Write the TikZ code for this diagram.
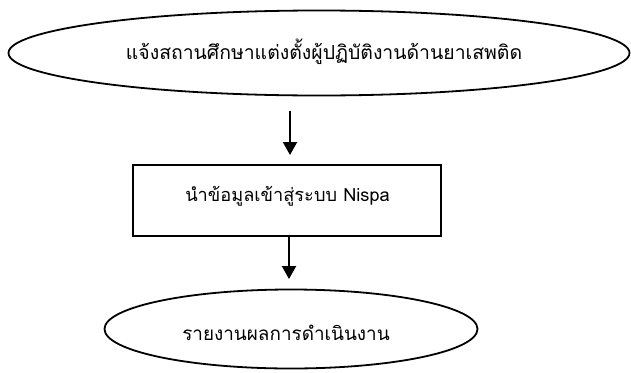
\documentclass[tikz,border=0pt]{standalone}
\usepackage{fontspec}
\newfontfamily\thaifont[Script=Thai]{Loma}
\usetikzlibrary{shapes.geometric,arrows.meta}
\begin{document}
\begin{tikzpicture}[x=1pt,y=-1pt,
  oval/.style={draw, line width=1.8pt, ellipse, inner sep=0pt},
  procbox/.style={draw, line width=1.8pt, rectangle, inner sep=0pt},
  lbl/.style={inner sep=0pt, font=\thaifont},
  flow/.style={line width=2.2pt, -{Triangle[length=13pt,width=14pt]}}]
\useasboundingbox (0,0) rectangle (631,372);
\node[oval, minimum width=621pt, minimum height=85pt] (start) at (319,53) {};
\node[lbl, font=\thaifont\fontsize{19.4}{22}\selectfont] (starttext) at (324,52) {แจ้งสถานศึกษาแต่งตั้งผู้ปฏิบัติงานด้านยาเสพติด};
\node[procbox, minimum width=308pt, minimum height=71pt] (proc) at (287,200.5) {};
\node[lbl, font=\thaifont\fontsize{18.2}{21}\selectfont] (proctext) at (287.5,196) {นำข้อมูลเข้าสู่ระบบ Nispa};
\node[oval, minimum width=373pt, minimum height=79pt] (end) at (291,329) {};
\node[lbl, font=\thaifont\fontsize{18.9}{22}\selectfont] (endtext) at (286,333) {รายงานผลการดำเนินงาน};
\coordinate (a1s) at (290,111);
\coordinate (a1e) at (290,155);
\coordinate (a2e) at (289,279);
\draw[flow] (a1s) -- (a1e);
\draw[flow] (proc.south -| a2e) -- (a2e);
\end{tikzpicture}
\end{document}
